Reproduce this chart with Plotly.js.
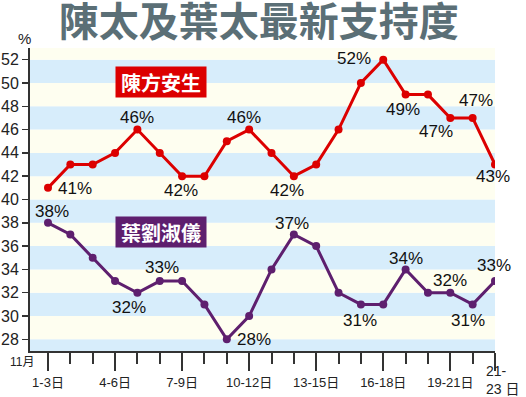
<!DOCTYPE html>
<html>
<head>
<meta charset="utf-8">
<script src="https://cdn.plot.ly/plotly-3.0.1.min.js"></script>
<style>html,body{margin:0;padding:0;background:#fff;}#chart{width:526px;height:397px;}</style>
</head>
<body>
<div id="chart"></div>
<script>
// ---- data ----
const chartTitle = "陳太及葉太最新支持度";
const dayIndex = [0,1,2,3,4,5,6,7,8,9,10,11,12,13,14,15,16,17,18,19,20];
const chanValues = [41,43,43,44,46,44,42,42,45,46,44,42,43,46,50,52,49,49,47,47,43];
const ipValues   = [38,37,35,33,32,33,33,31,28,30,34,37,36,32,31,31,34,32,32,31,33];
const chanName = "陳方安生";
const ipName = "葉劉淑儀";
const tickIdx = [0,3,6,9,12,15,18,20];
const tickLabels = ["1-3日","4-6日","7-9日","10-12日","13-15日","16-18日","19-21日",""];
const lastTickLabel = "21-<br>23 日";
const monthLabel = "11月";
const yTicks = [28,30,32,34,36,38,40,42,44,46,48,50,52];
// which points are labelled, with label offsets in px
const chanLabelIdx = [0,4,6,9,11,15,16,18,19,20];
const chanLabelOff = [[27,-1],[0,12],[-1,-14],[-5,12],[-7,-14],[-29,1],[-3,-15],[-14,-14],[3,17],[-2,-12]];
const ipLabelIdx = [0,5,4,8,11,14,16,18,19,20];
const ipLabelOff = [[4,11],[2,14],[-8,-15],[27,0],[-2,11],[-1,-16],[0,11],[0,12],[-5,-16],[-1,16]];

// ---- styles ----
const RED = "#dc0000", PURPLE = "#5e1f6e";
const BLUE_BAND = "#d7edfb", YELLOW_BAND = "#fefef0";
const numFont = "Liberation Sans, Arial, Noto Sans CJK TC, sans-serif";

const traces = [
  {x: dayIndex, y: chanValues, type: "scatter", mode: "lines+markers",
   line: {color: RED, width: 3}, marker: {color: RED, size: 8}, hoverinfo: "skip"},
  {x: dayIndex, y: ipValues, type: "scatter", mode: "lines+markers",
   line: {color: PURPLE, width: 3}, marker: {color: PURPLE, size: 8}, hoverinfo: "skip"}
];

const shapes = [];
const yMin = 27, yMax = 53;
for (let b = 26; b < yMax; b += 2) {
  const blue = ((b - 26) / 2) % 2 === 0;
  shapes.push({type: "rect", xref: "paper", yref: "y", x0: 0, x1: 1,
    y0: Math.max(b, yMin), y1: Math.min(b + 2, yMax),
    fillcolor: blue ? BLUE_BAND : YELLOW_BAND, line: {width: 0}, layer: "below"});
}

const annotations = [];
function addLabels(idxs, offs, vals) {
  idxs.forEach((i, k) => {
    annotations.push({x: dayIndex[i], y: vals[i], xref: "x", yref: "y",
      text: vals[i] + "%", showarrow: false, xshift: offs[k][0], yshift: offs[k][1],
      font: {family: numFont, size: 17, color: "#111"}});
  });
}
addLabels(chanLabelIdx, chanLabelOff, chanValues);
addLabels(ipLabelIdx, ipLabelOff, ipValues);

annotations.push({x: 5.06, y: 50.1, xref: "x", yref: "y", text: "<b>" + chanName + "</b>",
  showarrow: false, bgcolor: RED, width: 86, height: 26, borderpad: 2,
  font: {family: "Noto Sans CJK TC, sans-serif", size: 20, color: "#fff"}});
annotations.push({x: 5.06, y: 37.2, xref: "x", yref: "y", text: "<b>" + ipName + "</b>",
  showarrow: false, bgcolor: PURPLE, width: 86, height: 26, borderpad: 2,
  font: {family: "Noto Sans CJK TC, sans-serif", size: 20, color: "#fff"}});
annotations.push({x: dayIndex[20], y: 0, xref: "x", yref: "paper", yshift: -10,
  text: lastTickLabel, showarrow: false, xanchor: "left", yanchor: "top", align: "left", xshift: -11,
  font: {family: numFont, size: 14, color: "#222"}});
annotations.push({x: 22, y: 362, xref: "pixel", yref: "pixel", text: monthLabel, showarrow: false,
  xanchor: "center", yanchor: "middle",
  font: {family: numFont, size: 12, color: "#222"}});
annotations.push({x: 24, y: 39, xref: "pixel", yref: "pixel", text: "%", showarrow: false,
  xanchor: "center", yanchor: "middle",
  font: {family: numFont, size: 15, color: "#222"}});

// convert pixel refs to paper coords
const W = 526, H = 397, M = {l: 30, r: 31, t: 48, b: 46};
annotations.forEach(a => {
  if (a.xref === "pixel") { a.xref = "paper"; a.x = (a.x - M.l) / (W - M.l - M.r); }
  if (a.yref === "pixel") { a.yref = "paper"; a.y = 1 - (a.y - M.t) / (H - M.t - M.b); }
});

const layout = {
  width: W, height: H, margin: M,
  paper_bgcolor: "#fff", plot_bgcolor: "#fff",
  showlegend: false,
  title: {text: "<b>" + chartTitle + "</b>", x: 0.492, xanchor: "center",
    yref: "container", y: 1 - 22 / 397, yanchor: "middle",
    font: {family: "Noto Sans CJK TC, sans-serif", size: 40, color: "#5b6f76", weight: 900}},
  xaxis: {range: [-0.805, 20], tickmode: "array", tickvals: tickIdx, ticktext: tickLabels,
    ticks: "outside", ticklen: 18, tickwidth: 2, tickcolor: "#333",
    minor: {tickmode: "linear", tick0: 0, dtick: 1, ticks: "outside", ticklen: 11, tickwidth: 2, tickcolor: "#333"},
    showline: true, linecolor: "#333", linewidth: 2, showgrid: false, zeroline: false,
    tickfont: {family: numFont, size: 13, color: "#222"}, fixedrange: true},
  yaxis: {range: [yMin, yMax], tickmode: "array", tickvals: yTicks,
    ticks: "outside", ticklen: 6, tickwidth: 1.5, tickcolor: "#333",
    showline: true, linecolor: "#333", linewidth: 2, showgrid: false, zeroline: false,
    tickfont: {family: numFont, size: 16, color: "#222"}, fixedrange: true},
  shapes: shapes,
  annotations: annotations
};

Plotly.newPlot("chart", traces, layout, {displayModeBar: false, staticPlot: true});
</script>
</body>
</html>
